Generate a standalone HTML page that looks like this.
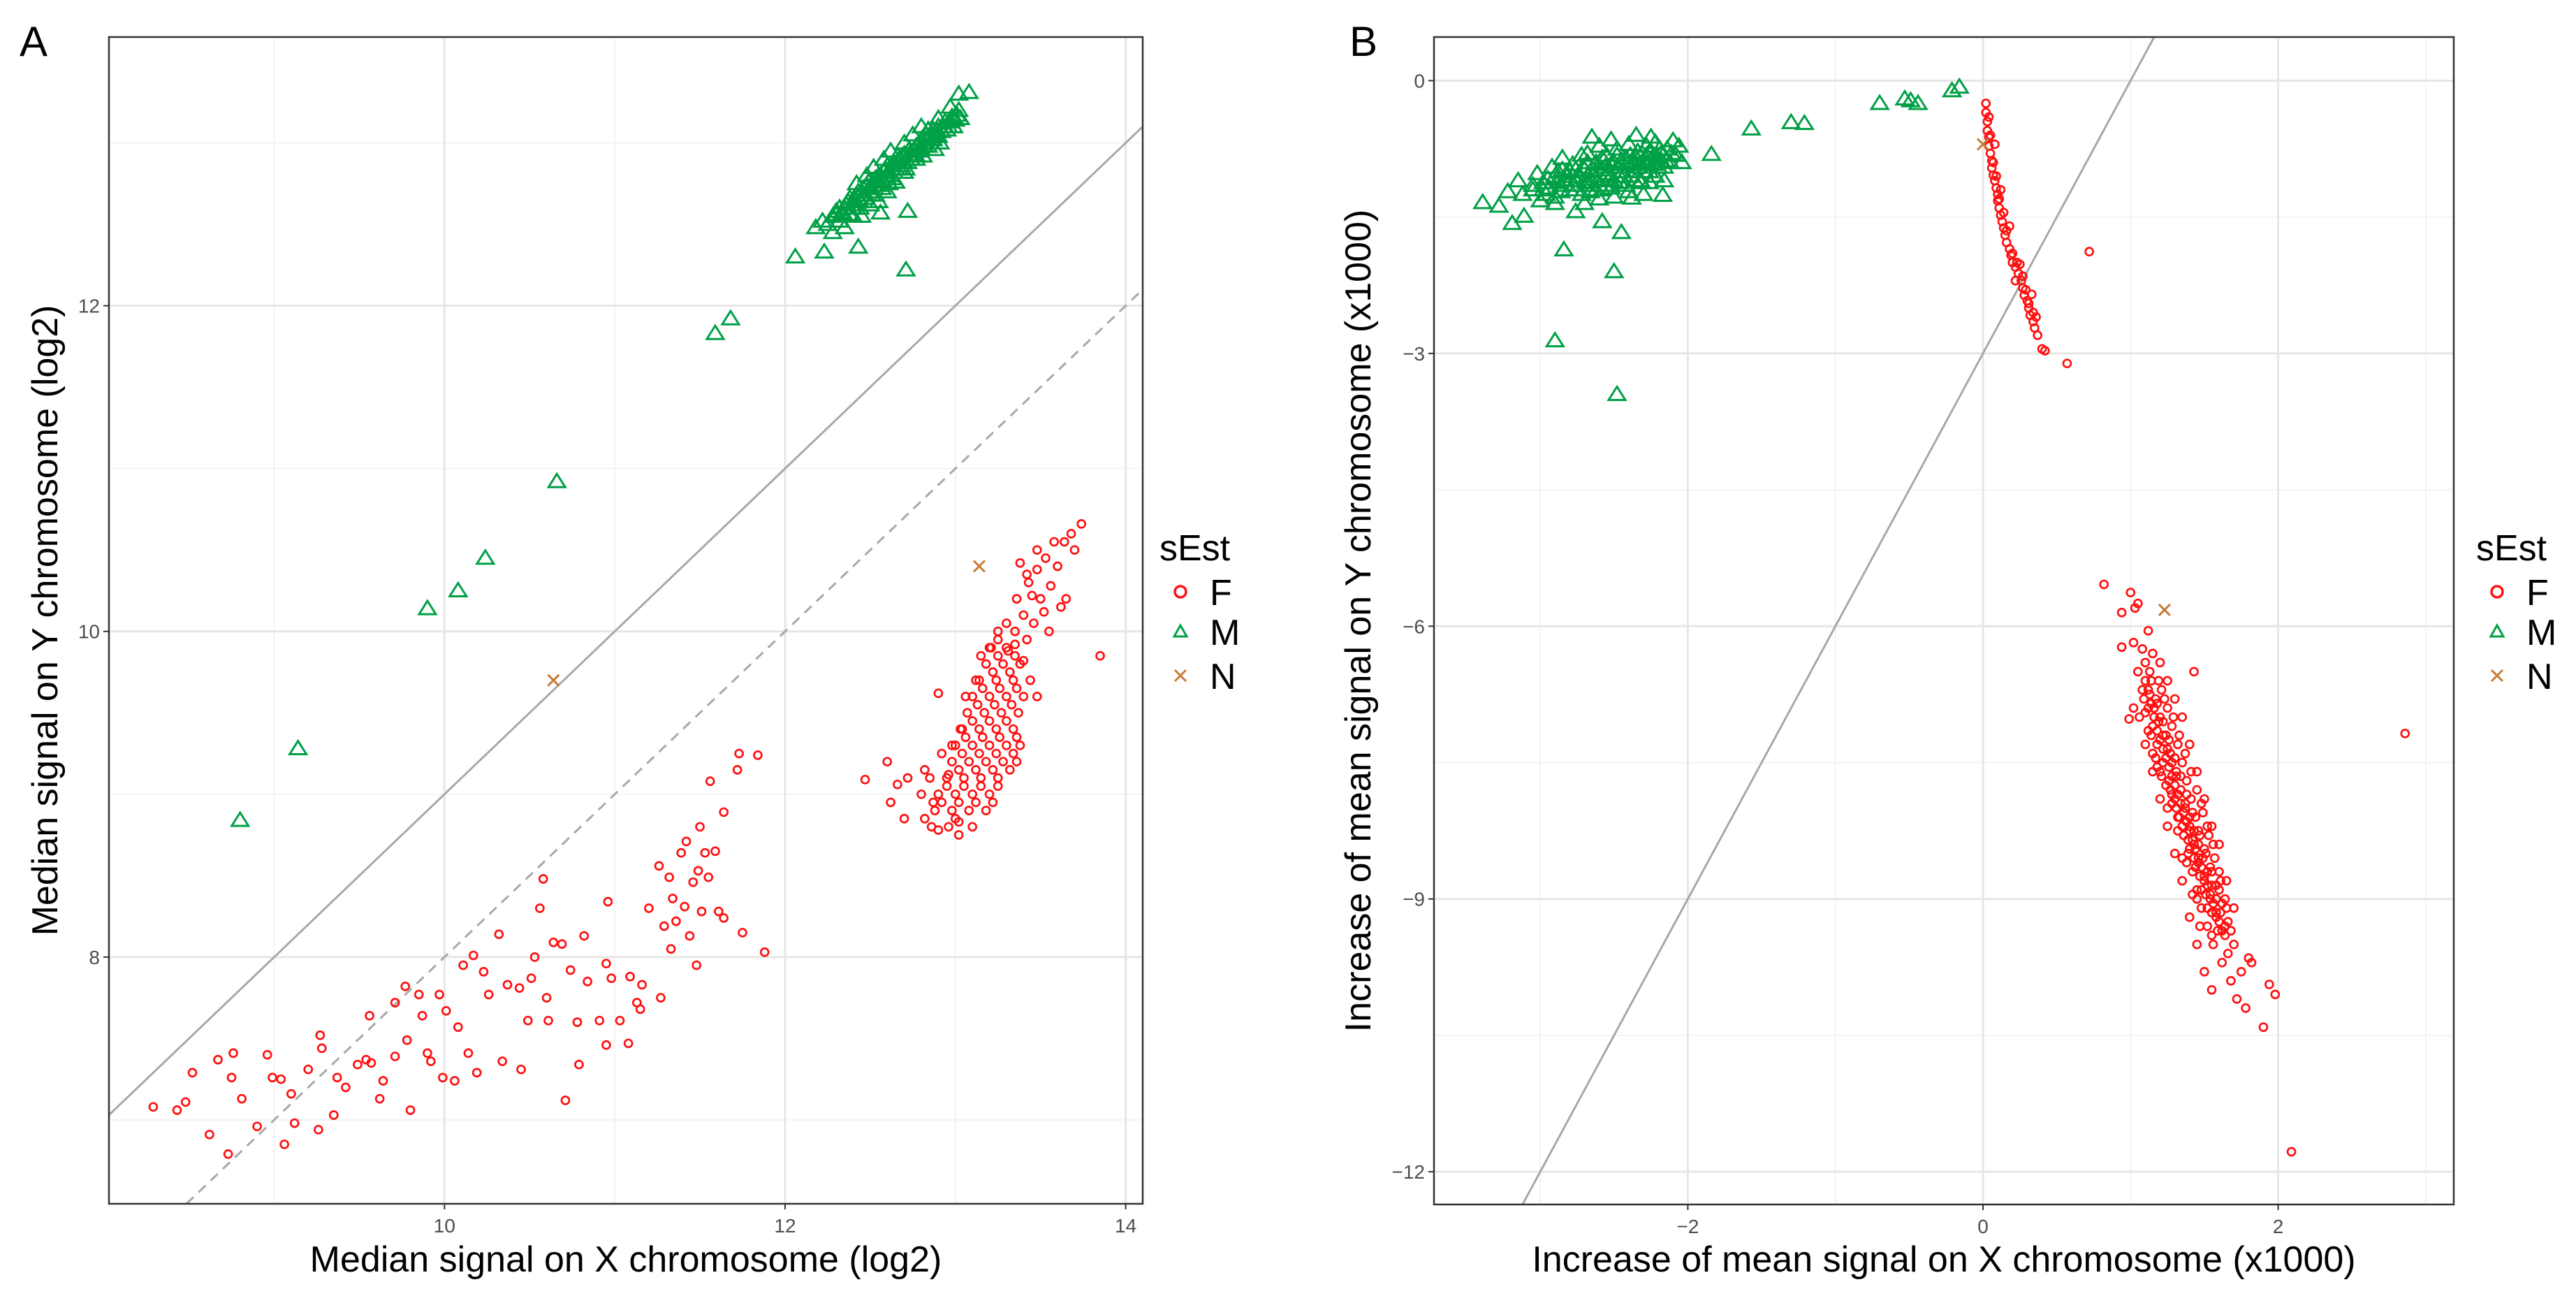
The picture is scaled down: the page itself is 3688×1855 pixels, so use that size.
<!DOCTYPE html>
<html><head><meta charset="utf-8"><style>
html,body{margin:0;padding:0;background:#fff;width:3688px;height:1855px;overflow:hidden;}
svg{display:block;font-family:"Liberation Sans",sans-serif;}
</style></head><body>
<svg id="fig" width="3688" height="1855" viewBox="0 0 3688 1855" xmlns="http://www.w3.org/2000/svg">
<rect width="3688" height="1855" fill="#fff"/>
<g id="panelA"></g>
<g id="panelB"></g>
</svg>
<script>
// ---------- Panel A data ----------
const aXTicks = [10, 12, 14];
const aYTicks = [8, 10, 12];
const aXMinor = [9, 11, 13];
const aYMinor = [7, 9, 11, 13];
const aM = [[8.8,8.84],[9.14,9.28],[9.9,10.14],[10.08,10.25],[10.24,10.45],[10.66,10.92],[11.59,11.83],[11.68,11.92],[12.06,12.3],[12.23,12.33],[12.43,12.36],[12.71,12.22],[12.56,12.57],[12.72,12.58],[12.88,12.96],[13.08,13.31],[13.02,13.3],[12.97,13.22],
[12.18,12.48],[12.22,12.52],[12.25,12.5],[12.28,12.55],[12.3,12.58],[12.32,12.52],[12.35,12.6],[12.37,12.64],[12.38,12.56],[12.4,12.62],[12.42,12.68],[12.44,12.6],[12.45,12.7],[12.47,12.66],[12.48,12.74],[12.5,12.7],[12.52,12.76],[12.53,12.68],[12.55,12.8],[12.56,12.74],[12.58,12.82],[12.6,12.78],[12.6,12.86],[12.62,12.8],[12.64,12.88],[12.65,12.84],[12.67,12.9],[12.68,12.86],[12.7,12.93],[12.72,12.88],[12.73,12.96],[12.75,12.92],[12.77,12.98],[12.78,12.95],[12.8,13.02],[12.82,12.98],[12.83,13.05],[12.85,13.0],[12.87,13.08],[12.88,13.04],[12.9,13.1],[12.92,13.07],[12.94,13.13],[12.96,13.1],[12.98,13.16],[13.0,13.14],[13.02,13.2],[12.5,12.62],[12.55,12.64],[12.6,12.7],[12.65,12.76],[12.7,12.82],[12.45,12.55],[12.35,12.48],[12.28,12.45],[12.62,12.95],[12.7,13.0],[12.8,13.1],[12.75,13.05],[12.58,12.9],[12.52,12.85],[12.42,12.75],[12.48,12.8],[12.66,12.92],[12.84,13.08],[12.9,13.15],[12.4,12.55],[12.33,12.56],[12.57,12.72],[12.63,12.78],[12.77,12.9],[12.86,13.02],
[12.3,12.56],[12.32,12.6],[12.34,12.57],[12.36,12.62],[12.38,12.66],[12.4,12.6],[12.41,12.65],[12.43,12.7],[12.44,12.64],[12.46,12.72],[12.47,12.68],[12.49,12.76],[12.5,12.73],[12.51,12.68],[12.53,12.78],[12.54,12.74],[12.56,12.8],[12.57,12.77],[12.59,12.84],[12.6,12.8],[12.61,12.75],[12.63,12.86],[12.64,12.82],[12.66,12.88],[12.67,12.84],[12.69,12.92],[12.7,12.88],[12.71,12.84],[12.73,12.93],[12.74,12.9],[12.76,12.96],[12.77,12.92],[12.79,13.0],[12.8,12.96],[12.81,12.92],[12.83,13.02],[12.84,12.98],[12.86,13.05],[12.87,13.02],[12.89,13.08],[12.9,13.04],[12.91,13.0],[12.93,13.1],[12.95,13.08],[12.97,13.13],[12.99,13.1],[13.01,13.17],[13.03,13.15]];
const aN = [[10.64,9.7],[13.14,10.4]];
const aF = [[8.29,7.08],[8.43,7.06],[8.48,7.11],[8.62,6.91],[8.73,6.79],[8.52,7.29],[8.67,7.37],[8.76,7.41],[8.75,7.26],[8.81,7.13],[8.9,6.96],[8.96,7.4],[8.99,7.26],[9.04,7.25],[9.06,6.85],[9.1,7.16],[9.12,6.98],[9.2,7.31],[9.27,7.52],[9.28,7.44],[9.26,6.94],[9.35,7.03],[9.37,7.26],[9.42,7.2],[9.49,7.34],[9.56,7.64],[9.54,7.37],[9.57,7.35],[9.62,7.13],[9.64,7.24],[9.71,7.72],[9.71,7.39],[9.77,7.82],[9.78,7.49],[9.8,7.06],[9.85,7.77],[9.87,7.64],[9.9,7.41],[9.92,7.36],[9.97,7.77],[9.99,7.26],[10.01,7.67],[10.06,7.24],[10.08,7.57],[10.11,7.95],[10.14,7.41],[10.17,8.01],[10.19,7.29],[10.23,7.91],[10.26,7.77],[10.32,8.14],[10.34,7.36],[10.37,7.83],[10.44,7.81],[10.45,7.31],[10.49,7.61],[10.51,7.87],[10.53,8.0],[10.56,8.3],[10.58,8.48],[10.6,7.75],[10.61,7.61],[10.64,8.09],[10.69,8.08],[10.71,7.12],[10.74,7.92],[10.78,7.6],[10.79,7.34],[10.82,8.13],[10.84,7.85],[10.91,7.61],[10.95,7.96],[10.95,7.46],[10.96,8.34],[10.98,7.87],[11.03,7.61],[11.08,7.47],[11.09,7.88],[11.13,7.72],[11.15,7.68],[11.16,7.83],[11.2,8.3],[11.26,8.56],[11.27,7.75],[11.29,8.19],[11.32,8.49],[11.33,8.05],[11.34,8.36],[11.36,8.22],[11.39,8.64],[11.41,8.31],[11.42,8.71],[11.44,8.13],[11.46,8.46],[11.48,7.95],[11.49,8.53],[11.5,8.8],[11.51,8.28],[11.53,8.64],[11.55,8.49],[11.56,9.08],[11.59,8.65],[11.61,8.28],[11.64,8.89],[11.64,8.24],[11.72,9.15],[11.73,9.25],[11.75,8.15],[11.84,9.24],[11.88,8.03],
[12.47,9.09],[12.6,9.2],[12.66,9.06],[12.62,8.95],[12.7,8.85],[12.9,9.62],[12.9,8.78],[13.02,8.83],[13.02,8.75],[13.85,9.85],
[12.72,9.1],[12.8,9.0],[12.82,9.15],[12.85,9.1],[12.87,8.95],[12.92,9.25],[12.96,9.12],[12.98,9.3],[13.03,9.4],[13.06,9.6],[13.12,9.7],[13.15,9.85],[13.21,9.9],[13.25,9.95],[13.3,10.05],[13.31,9.88],[13.35,9.92],[13.36,10.2],[13.4,10.1],[13.42,9.95],[13.43,10.3],[13.46,10.05],[13.48,10.38],[13.5,10.2],[13.53,10.45],[13.55,10.0],[13.56,10.28],[13.6,10.4],[13.62,10.15],[13.64,10.55],[13.65,10.2],[13.68,10.6],[13.7,10.5],[13.74,10.66],[13.38,10.42],[13.42,10.35],[13.48,10.5],[13.58,10.55],[13.52,10.12],[13.45,10.22],[13.4,9.82],[13.44,9.7],[13.48,9.6],
[12.9,9.0],[13.0,9.0],[13.1,9.0],[13.2,9.0],[12.95,9.1],[13.05,9.1],[13.15,9.1],[13.25,9.1],[12.98,9.2],[13.08,9.2],[13.18,9.2],[13.28,9.2],[13.36,9.2],[13.0,9.3],[13.1,9.3],[13.2,9.3],[13.3,9.3],[13.38,9.3],[13.04,9.4],[13.14,9.4],[13.24,9.4],[13.34,9.4],[13.07,9.5],[13.17,9.5],[13.27,9.5],[13.37,9.5],[13.1,9.6],[13.2,9.6],[13.3,9.6],[13.4,9.6],[13.14,9.7],[13.24,9.7],[13.34,9.7],[13.18,9.8],[13.28,9.8],[13.38,9.8],[13.2,9.9],[13.3,9.9],[13.25,10.0],[13.35,10.0],[12.88,8.9],[12.98,8.9],[13.08,8.9],[13.18,8.9],[12.86,8.8],[12.96,8.8],[13.1,8.8],
[12.95,9.05],[13.05,9.05],[13.15,9.05],[13.25,9.05],[13.02,9.15],[13.12,9.15],[13.22,9.15],[13.32,9.15],[13.04,9.25],[13.14,9.25],[13.24,9.25],[13.34,9.25],[13.06,9.35],[13.16,9.35],[13.26,9.35],[13.36,9.35],[13.1,9.45],[13.2,9.45],[13.3,9.45],[13.13,9.55],[13.23,9.55],[13.33,9.55],[13.16,9.65],[13.26,9.65],[13.36,9.65],[13.22,9.75],[13.32,9.75],[13.25,9.85],[13.35,9.85],[12.92,8.95],[13.02,8.95],[13.12,8.95],[12.82,8.85],[13.0,8.85],[13.22,8.95]];

// ---------- Panel B data ----------
const bXTicks = [-2, 0, 2];
const bYTicks = [0, -3, -6, -9, -12];
const bXMinor = [-3, -1, 1, 3];
const bYMinor = [-1.5, -4.5, -7.5, -10.5];
const bM = [[-3.39,-1.34],[-3.28,-1.38],[-3.19,-1.57],[-3.11,-1.49],[-2.84,-1.86],[-2.9,-2.86],[-2.5,-2.1],[-2.48,-3.45],[-2.58,-1.55],[-2.45,-1.67],[-2.76,-1.44],[-2.38,-1.29],[-2.17,-1.26],[-1.84,-0.81],[-1.57,-0.53],[-1.3,-0.46],[-1.21,-0.47],[-0.7,-0.25],[-0.53,-0.2],[-0.49,-0.22],[-0.44,-0.25],[-0.21,-0.11],[-0.16,-0.07],
[-3.22,-1.22],[-3.15,-1.1],[-3.12,-1.25],[-3.05,-1.15],[-3.02,-1.02],[-2.98,-1.2],[-2.95,-1.08],[-2.92,-0.95],[-2.9,-1.28],[-2.88,-1.12],[-2.85,-0.85],[-2.82,-1.02],[-2.8,-1.2],[-2.78,-0.92],[-2.75,-1.1],[-2.72,-1.25],[-2.7,-0.98],[-2.68,-0.8],[-2.66,-1.15],[-2.64,-1.05],[-2.62,-0.9],[-2.6,-0.72],[-2.58,-1.2],[-2.56,-0.95],[-2.55,-0.82],[-2.53,-1.08],[-2.5,-0.9],[-2.48,-0.75],[-2.46,-1.12],[-2.44,-1.0],[-2.42,-0.85],[-2.4,-0.7],[-2.38,-1.05],[-2.36,-0.92],[-2.34,-0.78],[-2.32,-1.1],[-2.3,-0.88],[-2.28,-0.72],[-2.26,-1.0],[-2.24,-0.85],[-2.22,-0.68],[-2.2,-0.95],[-2.18,-0.8],[-2.16,-1.1],[-2.14,-0.75],[-2.12,-0.9],[-2.1,-0.66],[-2.08,-0.82],[-2.06,-0.72],[-2.04,-0.9],[-2.6,-1.3],[-2.7,-1.35],[-2.5,-1.28],[-2.4,-1.22],[-2.3,-1.25],[-2.9,-1.35],[-3.0,-1.32],[-2.65,-0.62],[-2.52,-0.65],[-2.35,-0.6],[-2.25,-0.62],
[-3.05,-1.2],[-2.98,-1.12],[-2.94,-1.18],[-2.9,-1.05],[-2.86,-1.15],[-2.83,-1.1],[-2.8,-1.0],[-2.77,-1.15],[-2.74,-1.05],[-2.71,-0.95],[-2.69,-1.12],[-2.66,-1.0],[-2.63,-0.92],[-2.61,-1.1],[-2.59,-0.98],[-2.57,-0.88],[-2.54,-1.02],[-2.52,-0.92],[-2.5,-1.1],[-2.47,-0.95],[-2.45,-0.88],[-2.43,-1.05],[-2.41,-0.92],[-2.39,-0.82],[-2.37,-1.0],[-2.35,-0.85],[-2.33,-0.95],[-2.31,-0.8],[-2.29,-1.0],[-2.27,-0.9],[-2.25,-0.78],[-2.23,-0.92],[-2.21,-0.85],[-2.19,-0.75],[-2.15,-0.88],[-2.11,-0.8],[-2.62,-1.2],[-2.52,-1.18],[-2.42,-1.15],[-2.32,-1.12],[-2.22,-1.05],[-2.72,-0.82],[-2.85,-0.98],
[-2.88,-1.0],[-2.78,-1.05],[-2.68,-0.9],[-2.58,-0.85],[-2.48,-0.82],[-2.38,-0.9],[-2.28,-0.82],[-2.18,-0.88],[-2.96,-1.25],[-2.86,-1.22],[-2.76,-1.2],[-2.66,-1.22],[-2.56,-1.15],[-2.46,-1.05],[-2.36,-1.1],[-2.26,-1.12],[-2.16,-0.95],[-2.56,-1.05],[-2.66,-1.08],[-2.76,-0.98]];
const bN = [[0.0,-0.7],[1.23,-5.82]];
const bF = [[0.57,-3.11],[0.72,-1.88],[2.86,-7.18],[2.09,-11.78],[1.9,-10.41],[1.94,-9.94],[1.98,-10.05],[0.82,-5.54],[1.0,-5.63],[0.94,-5.85],[0.99,-7.02],[1.02,-6.18],[0.94,-6.23],[1.43,-6.5],[1.03,-5.8],[1.05,-5.75],
[0.02,-0.25],[0.02,-0.35],[0.03,-0.45],[0.03,-0.55],[0.04,-0.62],[0.04,-0.72],[0.05,-0.8],[0.06,-0.88],[0.06,-0.96],[0.07,-1.04],[0.08,-1.1],[0.09,-1.18],[0.1,-1.25],[0.1,-1.32],[0.11,-1.4],[0.12,-1.48],[0.13,-1.55],[0.14,-1.62],[0.15,-1.7],[0.16,-1.78],[0.18,-1.85],[0.19,-1.92],[0.2,-2.0],[0.22,-2.05],[0.25,-2.02],[0.24,-2.12],[0.26,-2.2],[0.27,-2.28],[0.28,-2.36],[0.3,-2.42],[0.31,-2.5],[0.32,-2.58],[0.34,-2.65],[0.35,-2.72],[0.36,-2.6],[0.33,-2.35],[0.4,-2.95],[0.42,-2.97],[0.08,-0.7],[0.12,-1.2],[0.18,-1.6],[0.22,-2.2],[0.04,-0.4],[0.05,-0.6],[0.07,-0.9],[0.09,-1.05],[0.11,-1.3],[0.14,-1.45],[0.16,-1.65],[0.2,-1.9],[0.23,-2.0],[0.27,-2.15],[0.29,-2.3],[0.31,-2.45],[0.34,-2.55],[0.37,-2.8],
[1.05,-6.5],[1.08,-6.7],[1.1,-6.4],[1.12,-6.9],[1.14,-6.6],[1.15,-7.1],[1.17,-6.8],[1.18,-7.3],[1.2,-7.0],[1.21,-6.7],[1.22,-7.5],[1.24,-7.2],[1.25,-6.9],[1.26,-7.7],[1.27,-7.4],[1.28,-7.1],[1.3,-7.9],[1.31,-7.6],[1.32,-7.3],[1.33,-8.1],[1.34,-7.8],[1.35,-7.5],[1.36,-8.3],[1.37,-8.0],[1.38,-7.7],[1.39,-8.5],[1.4,-8.2],[1.41,-7.9],[1.42,-8.7],[1.43,-8.4],[1.44,-8.1],[1.45,-8.9],[1.46,-8.6],[1.47,-8.3],[1.48,-9.1],[1.5,-8.8],[1.51,-8.5],[1.52,-9.3],[1.54,-9.0],[1.55,-8.7],[1.56,-9.5],[1.58,-9.2],[1.6,-8.9],[1.62,-9.7],[1.64,-9.4],[1.66,-9.6],[1.68,-9.9],[1.7,-9.5],[1.72,-10.1],[1.75,-9.8],[1.78,-10.2],[1.8,-9.65],[1.82,-9.7],[1.6,-8.4],[1.55,-8.2],[1.5,-7.9],[1.45,-7.6],[1.4,-7.3],[1.35,-7.0],[1.3,-6.8],[1.25,-6.6],[1.2,-6.4],[1.15,-6.3],[1.1,-7.3],[1.15,-7.6],[1.2,-7.9],[1.25,-8.2],[1.3,-8.5],[1.35,-8.8],[1.4,-9.2],[1.45,-9.5],[1.5,-9.8],[1.55,-10.0],[1.65,-8.8],[1.7,-9.1],[1.12,-7.15],[1.18,-7.55],[1.28,-7.85],[1.32,-8.25],[1.38,-8.6],[1.42,-8.95],[1.47,-9.3],[1.08,-6.25],[1.12,-6.05],[1.06,-7.0],[1.02,-6.9],
[1.12,-6.7],[1.14,-6.85],[1.16,-7.0],[1.18,-7.15],[1.2,-7.25],[1.22,-7.35],[1.24,-7.45],[1.26,-7.55],[1.28,-7.65],[1.3,-7.75],[1.32,-7.85],[1.34,-7.95],[1.36,-8.05],[1.38,-8.15],[1.4,-8.25],[1.42,-8.35],[1.44,-8.45],[1.46,-8.55],[1.48,-8.65],[1.5,-8.75],[1.52,-8.85],[1.54,-8.95],[1.56,-9.05],[1.58,-9.15],[1.6,-9.25],[1.62,-9.35],[1.2,-7.6],[1.24,-7.75],[1.28,-7.95],[1.32,-8.1],[1.36,-8.3],[1.4,-8.45],[1.44,-8.65],[1.48,-8.9],[1.52,-9.1],[1.18,-6.85],[1.22,-7.05],[1.26,-7.25],[1.3,-7.45],[1.34,-7.65],[1.38,-7.85],[1.42,-8.05],[1.46,-8.25],[1.5,-8.45],[1.54,-8.65],[1.58,-8.85],[1.62,-9.05],[1.66,-9.25],[1.15,-7.4],[1.25,-8.0],[1.35,-8.55],[1.45,-9.0],[1.55,-9.4],[1.1,-6.95],[1.14,-7.2],[1.56,-8.4],[1.52,-8.2],[1.48,-7.95],[1.6,-8.7],[1.64,-9.0],
[1.1,-6.6],[1.13,-6.75],[1.16,-6.9],[1.19,-7.05],[1.22,-7.2],[1.25,-7.35],[1.28,-7.5],[1.31,-7.65],[1.34,-7.8],[1.37,-7.95],[1.4,-8.1],[1.43,-8.25],[1.46,-8.4],[1.49,-8.55],[1.52,-8.7],[1.55,-8.85],[1.58,-9.0],[1.61,-9.15],[1.64,-9.3],[1.17,-7.45],[1.21,-7.65],[1.27,-7.8],[1.31,-8.0],[1.35,-8.2],[1.39,-8.35],[1.43,-8.55],[1.47,-8.75],[1.51,-8.95],[1.55,-9.15],[1.59,-9.35],[1.09,-6.8],[1.13,-6.5],[1.19,-6.6],[1.23,-6.8],[1.29,-7.0],[1.33,-7.2],[1.37,-7.4],[1.41,-7.6],[1.45,-7.8],[1.49,-8.05],[1.53,-8.3],[1.57,-8.55],[1.61,-8.8],[1.65,-9.1],[1.68,-9.35]];

const NS = 'http://www.w3.org/2000/svg';
function mk(parent, tag, attrs, text){const e=document.createElementNS(NS,tag);for(const k in attrs)e.setAttribute(k,attrs[k]);if(text!==undefined)e.textContent=text;parent.appendChild(e);return e;}

function drawPanel(g, cfg){
  const L=cfg.L,R=cfg.R,T=cfg.T,B=cfg.B;
  const sx=v=>L+(v-cfg.x0)/(cfg.x1-cfg.x0)*(R-L);
  const sy=v=>B-(v-cfg.y0)/(cfg.y1-cfg.y0)*(B-T);
  const grid=mk(g,'g',{});
  
  
  cfg.xMinor.forEach(v=>mk(grid,'line',{x1:sx(v),x2:sx(v),y1:T,y2:B,stroke:'#f0f0f0','stroke-width':1.5}));
  cfg.yMinor.forEach(v=>mk(grid,'line',{x1:L,x2:R,y1:sy(v),y2:sy(v),stroke:'#f0f0f0','stroke-width':1.5}));
  cfg.xTicks.forEach(v=>mk(grid,'line',{x1:sx(v),x2:sx(v),y1:T,y2:B,stroke:'#e6e6e6','stroke-width':3}));
  cfg.yTicks.forEach(v=>mk(grid,'line',{x1:L,x2:R,y1:sy(v),y2:sy(v),stroke:'#e6e6e6','stroke-width':3}));
  const defs=mk(g,'defs',{});
  const cp=mk(defs,'clipPath',{id:cfg.id+'clip'});
  mk(cp,'rect',{x:L,y:T,width:R-L,height:B-T});
  const plot=mk(g,'g',{'clip-path':'url(#'+cfg.id+'clip)'});
  cfg.lines.forEach(ln=>{
    // clip analytically to the plot domain
    let xa=Math.max(cfg.x0,(cfg.y0-ln.b)/ln.a), xb=Math.min(cfg.x1,(cfg.y1-ln.b)/ln.a);
    const l=mk(plot,'line',{x1:sx(xa),y1:sy(ln.a*xa+ln.b),x2:sx(xb),y2:sy(ln.a*xb+ln.b),stroke:'#a8a8a8','stroke-width':3});
    if(ln.dash) l.setAttribute('stroke-dasharray','14 10');
    
    
  });
  const gF=mk(plot,'g',{});
  
  
  cfg.F.forEach(p=>{const c=mk(gF,'circle',{cx:sx(p[0]),cy:sy(p[1]),r:5.5,fill:'none',stroke:'#ff1010','stroke-width':2.7});
    
    });
  const gM=mk(plot,'g',{});
  
  
  cfg.M.forEach(p=>{const x=sx(p[0]),y=sy(p[1]);
    const t=mk(gM,'polygon',{points:`${x},${y-11} ${x-12},${y+8} ${x+12},${y+8}`,fill:'none',stroke:'#00a046','stroke-width':3});
    
    });
  const gN=mk(plot,'g',{});
  
  
  cfg.N.forEach(p=>{const x=sx(p[0]),y=sy(p[1]);
    const q=mk(gN,'path',{d:`M${x-8},${y-8}L${x+8},${y+8}M${x-8},${y+8}L${x+8},${y-8}`,stroke:'#c77a36','stroke-width':3});
    
    });
  const border=mk(g,'rect',{x:L,y:T,width:R-L,height:B-T,fill:'none',stroke:'#333','stroke-width':2.5});
  
  
  cfg.xTicks.forEach(v=>{mk(g,'line',{x1:sx(v),x2:sx(v),y1:B,y2:B+8,stroke:'#333','stroke-width':2});
    const t=mk(g,'text',{x:sx(v),y:B+41,'text-anchor':'middle','font-size':28,fill:'#4d4d4d'},String(v).replace('-','\u2212'));
    
    });
  cfg.yTicks.forEach(v=>{mk(g,'line',{x1:L-8,x2:L,y1:sy(v),y2:sy(v),stroke:'#333','stroke-width':2});
    const t=mk(g,'text',{x:L-13,y:sy(v)+10,'text-anchor':'end','font-size':28,fill:'#4d4d4d'},String(v).replace('-','\u2212'));
    
    });
  const xt=mk(g,'text',{x:(L+R)/2,y:cfg.xtY,'text-anchor':'middle','font-size':52,fill:'#000'},cfg.xTitle);
  
  
  const cy=(T+B)/2;
  const yt=mk(g,'text',{x:cfg.ytX,y:cy,'text-anchor':'middle','font-size':52,fill:'#000',transform:`rotate(-90 ${cfg.ytX} ${cy})`},cfg.yTitle);
  
  
  const pl=mk(g,'text',{x:cfg.labX,y:80,'font-size':60,fill:'#000'},cfg.label);
  
  
  // legend
  const lg=mk(g,'g',{});
  
  
  const lx=cfg.legX;
  mk(lg,'text',{x:lx,y:802,'font-size':52,fill:'#000'},'sEst');
  const e1=mk(lg,'g',{});  
  mk(e1,'circle',{cx:lx+30,cy:847,r:8,fill:'none',stroke:'#ff1010','stroke-width':3.5});
  mk(e1,'text',{x:lx+72,y:866,'font-size':52},'F');
  const e2=mk(lg,'g',{});  
  mk(e2,'polygon',{points:`${lx+30},${895} ${lx+21},${911} ${lx+39},${911}`,fill:'none',stroke:'#00a046','stroke-width':3});
  mk(e2,'text',{x:lx+72,y:923,'font-size':52},'M');
  const e3=mk(lg,'g',{});  
  mk(e3,'path',{d:`M${lx+22},${959}L${lx+38},${975}M${lx+22},${975}L${lx+38},${959}`,stroke:'#c77a36','stroke-width':3});
  mk(e3,'text',{x:lx+72,y:986,'font-size':52},'N');
}

drawPanel(document.getElementById('panelA'),{id:'A',L:156,R:1636,T:53,B:1723,x0:8.03,x1:14.1,y0:6.485,y1:13.65,
  xTicks:aXTicks,yTicks:aYTicks,xMinor:aXMinor,yMinor:aYMinor,F:aF,M:aM,N:aN,
  lines:[{a:1,b:-1,dash:false,name:'reference-line-solid'},{a:1,b:-2,dash:true,name:'reference-line-dashed'}],
  xTitle:'Median signal on X chromosome (log2)',yTitle:'Median signal on Y chromosome (log2)',xtY:1820,ytX:82,label:'A',labX:28,legX:1660});
drawPanel(document.getElementById('panelB'),{id:'B',L:2053,R:3513,T:53,B:1724,x0:-3.72,x1:3.19,y0:-12.36,y1:0.48,
  xTicks:bXTicks,yTicks:bYTicks,xMinor:bXMinor,yMinor:bYMinor,F:bF,M:bM,N:bN,
  lines:[{a:3,b:-3,dash:false,name:'reference-line'}],
  xTitle:'Increase of mean signal on X chromosome (x1000)',yTitle:'Increase of mean signal on Y chromosome (x1000)',xtY:1820,ytX:1962,label:'B',labX:1932,legX:3545});
</script>
</body></html>
